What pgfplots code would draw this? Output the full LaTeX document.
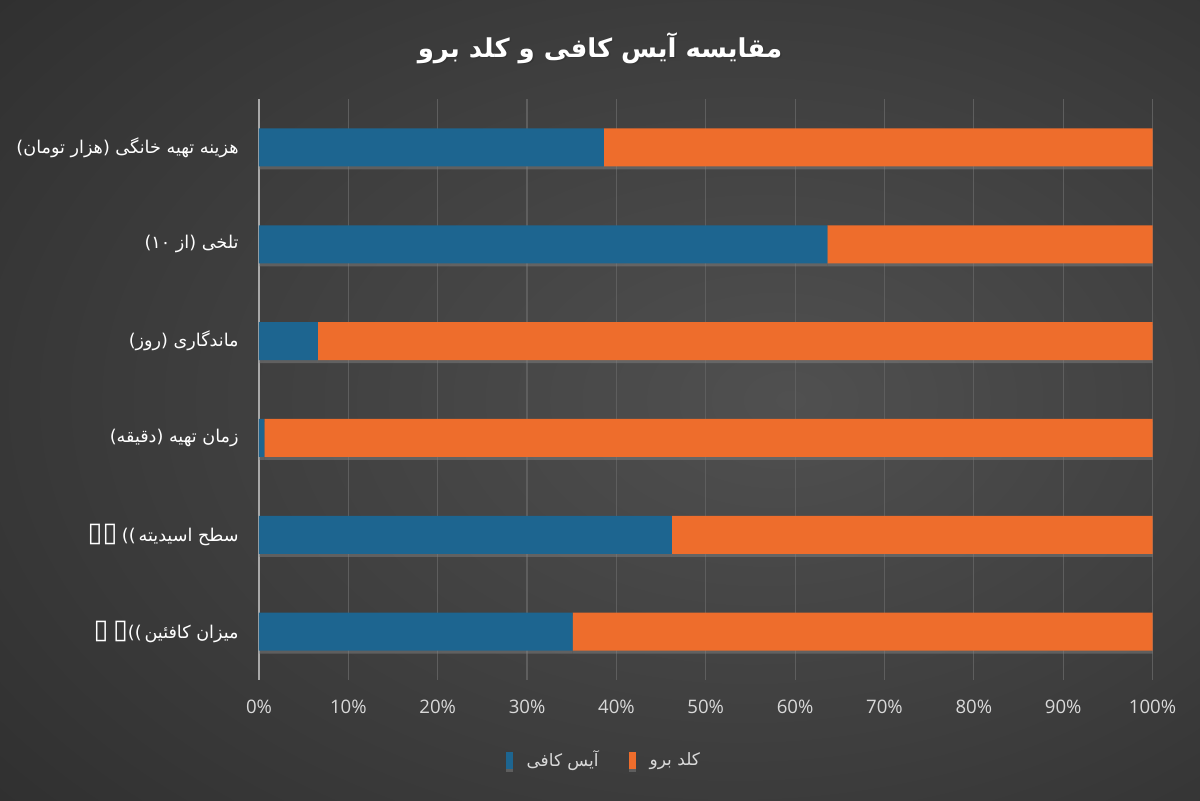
\documentclass[border=0pt]{standalone}
\usepackage{pgfplots}
\pgfplotsset{compat=1.18}
\usepackage{pgfplotstable}
\usepackage{fontspec}
\usetikzlibrary{shadows}
\setmainfont{Open Sans}
\TeXXeTstate=1
\newfontfamily\arabicfont[Script=Arabic]{DejaVu Sans}
\newfontfamily\dejavu{DejaVu Sans}
\definecolor{bgA}{HTML}{505050}
\definecolor{bgB}{HTML}{3E3E3E}
\definecolor{bgC}{HTML}{282828}
\definecolor{bgD}{HTML}{1C1C1C}
\definecolor{blueF}{HTML}{1D6590}
\definecolor{orF}{HTML}{EE6D2C}
\definecolor{gridc}{HTML}{5E5E5E}
\definecolor{axc}{HTML}{A8A8A8}
\definecolor{tickc}{HTML}{D9D9D9}
\pgfdeclareradialshading{bgshade}{\pgfpoint{8bp}{0bp}}{color(0bp)=(bgA); color(22bp)=(bgB); color(48bp)=(bgC); color(80bp)=(bgD)}
\newcommand{\nobox}{{\dejavu\fontsize{13.5}{13.5}\selectfont ▯}}
\pgfplotstableread{
y ice cold
0 38.6 61.4
1 63.6 36.4
2 6.6 93.4
3 0.6 99.4
4 46.2 53.8
5 35.1 64.9
}\datatab
\begin{document}
\begin{tikzpicture}
\shade[shading=bgshade] (0,0) rectangle (600pt,400pt);
\node[text=black!80, opacity=0.7] at (300.8pt,375.2pt) {\arabicfont\bfseries\fontsize{13}{16}\selectfont\beginR مقایسه آیس کافی و کلد برو\endR};
\node[text=white] at (300pt,376pt) {\arabicfont\bfseries\fontsize{13}{16}\selectfont\beginR مقایسه آیس کافی و کلد برو\endR};
\begin{axis}[
  at={(129.5pt,60pt)}, anchor=south west,
  scale only axis, width=446.75pt, height=290.5pt,
  xbar stacked, bar width=19pt,
  xmin=0, xmax=100, ymin=-0.5, ymax=5.5, y dir=reverse,
  axis lines*=left,
  x axis line style={draw=none},
  y axis line style={draw=axc, line width=1pt},
  xmajorgrids, grid style={draw=gridc, line width=0.6pt},
  major tick length=0pt,
  xtick={0,10,...,100},
  xticklabel={\pgfmathprintnumber{\tick}\%},
  /pgf/number format/assume math mode=true,
  xticklabel style={text=tickc, font=\fontsize{9.3}{11}\selectfont, inner sep=0pt, anchor=north, yshift=-10pt},
  ytick={0,1,2,3,4,5},
  yticklabels={
    {\arabicfont\beginR هزینه تهیه خانگی (هزار تومان)\endR},
    {\arabicfont\beginR تلخی (از ۱۰)\endR},
    {\arabicfont\beginR ماندگاری (روز)\endR},
    {\arabicfont\beginR زمان تهیه (دقیقه)\endR},
    {\nobox\nobox\ {\dejavu ((}\,\arabicfont\beginR سطح اسیدیته\endR},
    {\nobox\ \nobox{\dejavu ((}\,\arabicfont\beginR میزان کافئین\endR}},
  yticklabel style={text=white, font=\fontsize{8.8}{10}\selectfont, inner sep=0pt, anchor=east, xshift=-10pt},
  legend style={at={(0.387,-0.138)}, anchor=center, draw=none, fill=none, text=tickc,
    font=\fontsize{8.5}{10}\selectfont, legend columns=2,
    /tikz/every odd column/.append style={column sep=5pt},
    /tikz/every even column/.append style={column sep=13pt}},
  legend image code/.code={\fill[#1] (0pt,-4.2pt) rectangle (3.5pt,4.2pt);},
  clip=false,
]
\addplot[draw=none, fill=blueF, drop shadow={shadow xshift=0pt, shadow yshift=-1.5pt, opacity=0.5}] table[x=ice, y=y] {\datatab};
\addlegendentry{\arabicfont\beginR آیس کافی\endR}
\addplot[draw=none, fill=orF, drop shadow={shadow xshift=0pt, shadow yshift=-1.5pt, opacity=0.5}] table[x=cold, y=y] {\datatab};
\addlegendentry{\arabicfont\beginR کلد برو\endR}
\end{axis}
\end{tikzpicture}
\end{document}
